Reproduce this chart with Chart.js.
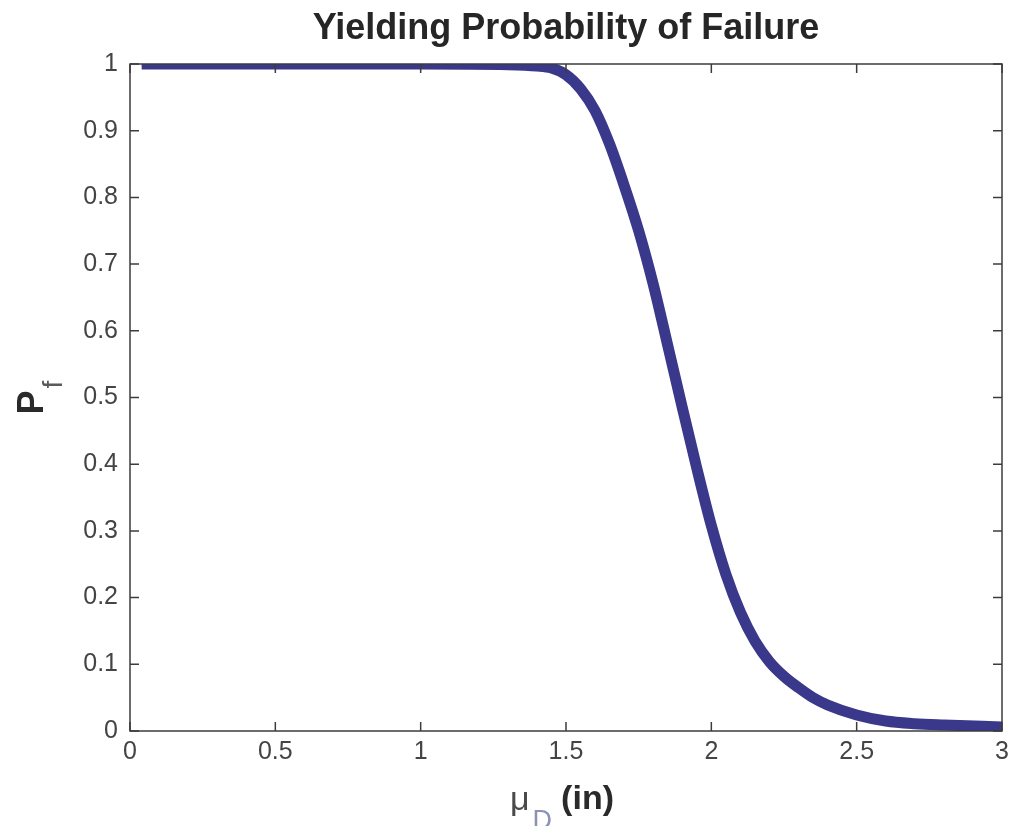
<!DOCTYPE html>
<html>
<head>
<meta charset="utf-8">
<title>Yielding Probability of Failure</title>
<script src="https://cdn.jsdelivr.net/npm/chart.js@4.4.1/dist/chart.umd.min.js"></script>
<style>
  html, body { margin: 0; padding: 0; background: #fff; }
</style>
</head>
<body>
<canvas id="pf" width="1011" height="826"></canvas>
<script>
// mean displacement (in) and the probability of yielding failure
const muD = [0.04, 0.5, 1.0, 1.3, 1.4, 1.45, 1.5, 1.55, 1.6, 1.65, 1.7, 1.75, 1.8, 1.85,
             1.9, 1.95, 2.0, 2.05, 2.1, 2.15, 2.2, 2.25, 2.3, 2.35, 2.4, 2.5, 2.6, 2.7, 2.8, 3.0];
const pf = [1, 1, 1, 0.999, 0.997, 0.994, 0.984, 0.963, 0.93, 0.88, 0.818, 0.75, 0.67, 0.578,
            0.485, 0.394, 0.308, 0.235, 0.178, 0.135, 0.104, 0.082, 0.065, 0.05, 0.039, 0.024,
            0.015, 0.011, 0.009, 0.006];

const xTicks = ['0', '0.5', '1', '1.5', '2', '2.5', '3'];
const yTicks = ['0', '0.1', '0.2', '0.3', '0.4', '0.5', '0.6', '0.7', '0.8', '0.9', '1'];

const FONT = "'Liberation Sans', Arial, Helvetica, sans-serif";

// matlab style frame: box all round, ticks pointing inwards on every side
const framePlugin = {
    id: 'frame',
    afterDatasetsDraw(chart) {
        const {ctx, chartArea: a, scales: {x, y}} = chart;
        const len = 9;
        ctx.save();
        ctx.strokeStyle = '#3c3c3c';
        ctx.lineWidth = 1.5;
        ctx.strokeRect(a.left, a.top, a.right - a.left, a.bottom - a.top);
        ctx.beginPath();
        x.ticks.forEach(t => {
            const px = x.getPixelForValue(t.value);
            ctx.moveTo(px, a.bottom); ctx.lineTo(px, a.bottom - len);
            ctx.moveTo(px, a.top); ctx.lineTo(px, a.top + len);
        });
        y.ticks.forEach(t => {
            const py = y.getPixelForValue(t.value);
            ctx.moveTo(a.left, py); ctx.lineTo(a.left + len, py);
            ctx.moveTo(a.right, py); ctx.lineTo(a.right - len, py);
        });
        ctx.stroke();
        ctx.restore();
    },
    afterDraw(chart) {
        const {ctx, chartArea: a} = chart;
        ctx.save();
        ctx.textBaseline = 'alphabetic';
        ctx.textAlign = 'left';

        // x axis title: mu with subscript D, then (in)
        const cx = (a.left + a.right) / 2;
        ctx.font = '34px ' + FONT;
        const wMu = ctx.measureText('\u03bc').width;
        ctx.font = '27px ' + FONT;
        const wD = ctx.measureText('D').width;
        ctx.font = 'bold 34px ' + FONT;
        const wIn = ctx.measureText('(in)').width;
        const gap = 12;
        let x0 = cx - (wMu + wD + gap + wIn) / 2 - 4;
        ctx.fillStyle = '#4a4a4a';
        ctx.font = '34px ' + FONT;
        ctx.fillText('\u03bc', x0, 810);
        ctx.fillStyle = '#8d92b4';
        ctx.font = '27px ' + FONT;
        ctx.fillText('D', x0 + wMu + 3, 829);
        ctx.fillStyle = '#2a2a2a';
        ctx.font = 'bold 34px ' + FONT;
        ctx.fillText('(in)', x0 + wMu + wD + gap, 809);

        // y axis title: P with subscript f, rotated
        const cy = (a.top + a.bottom) / 2;
        ctx.translate(43, cy);
        ctx.rotate(-Math.PI / 2);
        ctx.font = 'bold 36px ' + FONT;
        const wP = ctx.measureText('P').width;
        ctx.font = '28px ' + FONT;
        const wF = ctx.measureText('f').width;
        const u0 = -(wP + wF + 2) / 2;
        ctx.fillStyle = '#2a2a2a';
        ctx.font = 'bold 36px ' + FONT;
        ctx.fillText('P', u0, 0);
        ctx.fillStyle = '#5a5a5a';
        ctx.font = '28px ' + FONT;
        ctx.fillText('f', u0 + wP + 2, 19);
        ctx.restore();
    }
};

const ctx = document.getElementById('pf').getContext('2d');
new Chart(ctx, {
    type: 'line',
    data: {
        datasets: [{
            data: muD.map((m, i) => ({x: m, y: pf[i]})),
            borderColor: 'rgb(58, 56, 138)',
            borderWidth: 11,
            pointRadius: 0,
            cubicInterpolationMode: 'monotone',
            fill: false
        }]
    },
    options: {
        responsive: false,
        animation: false,
        layout: { padding: { right: 9 } },
        plugins: {
            legend: { display: false },
            tooltip: { enabled: false },
            title: {
                display: true,
                fullSize: false,
                text: 'Yielding Probability of Failure',
                color: '#262626',
                font: { family: FONT, size: 36, weight: 'bold' },
                padding: { top: 7, bottom: 13.8 }
            }
        },
        scales: {
            x: {
                type: 'linear',
                min: 0,
                max: 3,
                grid: { display: false, drawTicks: false },
                border: { display: false },
                ticks: {
                    stepSize: 0.5,
                    padding: 6,
                    color: '#444',
                    font: { family: FONT, size: 25 },
                    maxRotation: 0,
                    callback: (v, i) => xTicks[i]
                },
                afterFit(s) {
                    s.height = 95;
                    s.paddingLeft = 0;
                    s.paddingRight = 0;
                }
            },
            y: {
                min: 0,
                max: 1,
                grid: { display: false, drawTicks: false },
                border: { display: false },
                ticks: {
                    stepSize: 0.1,
                    padding: 12,
                    color: '#444',
                    font: { family: FONT, size: 25 },
                    callback: (v, i) => yTicks[i]
                },
                afterFit(s) { s.width = 130; }
            }
        }
    },
    plugins: [framePlugin]
});
</script>
</body>
</html>
